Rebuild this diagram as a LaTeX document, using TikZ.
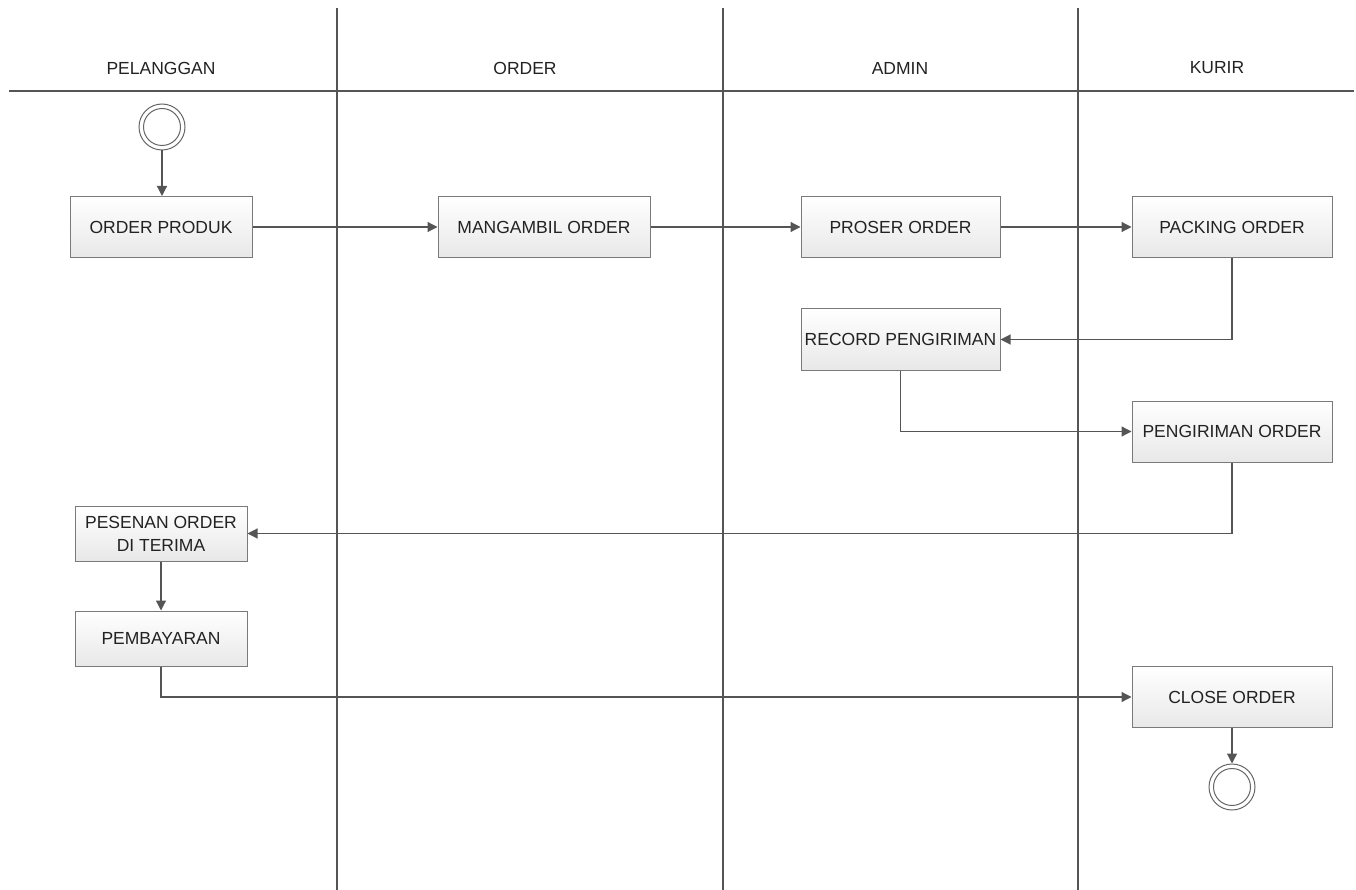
\documentclass[tikz,border=0pt]{standalone}
\usepackage{fontspec}
\setmainfont{Liberation Sans}
\usetikzlibrary{arrows.meta}
\definecolor{linec}{HTML}{555555}
\definecolor{boxb}{HTML}{7A7A7A}
\definecolor{txt}{HTML}{222222}
\begin{document}
\begin{tikzpicture}[x=1pt,y=-1pt,
  act/.style={draw=boxb, line width=1pt, top color=white, bottom color=black!9,
    minimum height=61pt, inner sep=0pt, align=center, text=txt,
    font=\fontsize{17.5}{23}\selectfont},
  head/.style={text=txt, inner sep=0pt, font=\fontsize{17.5}{21}\selectfont},
  flow/.style={draw=linec, line width=1.2pt, -{Triangle[length=10pt,width=10pt]}},
  lane/.style={draw=linec, line width=1.2pt},
  term/.style={circle, draw=linec!90, line width=1pt, minimum size=46pt, inner sep=0pt, fill=white}
]
\useasboundingbox (0,0) rectangle (1356,890);
% lanes
\coordinate (h1) at (9,91);
\coordinate (h2) at (1354,91);
\draw[lane] (h1) -- (h2);
\foreach \x/\n in {337/a,723/b,1078/c}{
  \coordinate (t\n) at (\x,8);
  \coordinate (b\n) at (\x,890);
  \draw[lane] (t\n) -- (b\n);
}
% headers
\node[head] (hp) at (161,68) {PELANGGAN};
\node[head] (ho) at (525,68) {ORDER};
\node[head] (ha) at (900,68) {ADMIN};
\node[head] (hk) at (1217,68) {KURIR};
% start
\node[term] (start) at (162,127) {};
\draw[draw=linec!90, line width=1pt] (start.center) circle (18.5pt);
% activities
\node[act, minimum width=182pt] (op) at (161,227) {ORDER PRODUK};
\node[act, minimum width=212pt] (ma) at (544,227) {MANGAMBIL ORDER};
\node[act, minimum width=199pt] (pr) at (900.5,227) {PROSER ORDER};
\node[act, minimum width=200pt] (pk) at (1232,227) {PACKING ORDER};
\node[act, minimum width=199pt] (rec) at (900.5,339.5) {RECORD PENGIRIMAN};
\node[act, minimum width=200pt] (pg) at (1232,431.5) {PENGIRIMAN ORDER};
\node[act, minimum width=172pt, minimum height=55pt] (ps) at (161,533.5) {PESENAN ORDER\\DI TERIMA};
\node[act, minimum width=172pt, minimum height=55pt] (pb) at (161,638.5) {PEMBAYARAN};
\node[act, minimum width=200pt] (cl) at (1232,697) {CLOSE ORDER};
% end
\node[term] (end) at (1232,787) {};
\draw[draw=linec!90, line width=1pt] (end.center) circle (18.5pt);
% flows
\draw[flow] (start.south) -- (start.south |- op.north);
\draw[flow] (op.east) -- (ma.west);
\draw[flow] (ma.east) -- (pr.west);
\draw[flow] (pr.east) -- (pk.west);
\draw[flow] (pk.south) |- (rec.east);
\draw[flow] (rec.south) |- (pg.west);
\draw[flow] (pg.south) |- (ps.east);
\draw[flow] (ps.south) -- (ps.south |- pb.north);
\draw[flow] (pb.south) |- (cl.west);
\draw[flow] (cl.south) -- (end.north);
\end{tikzpicture}
\end{document}
